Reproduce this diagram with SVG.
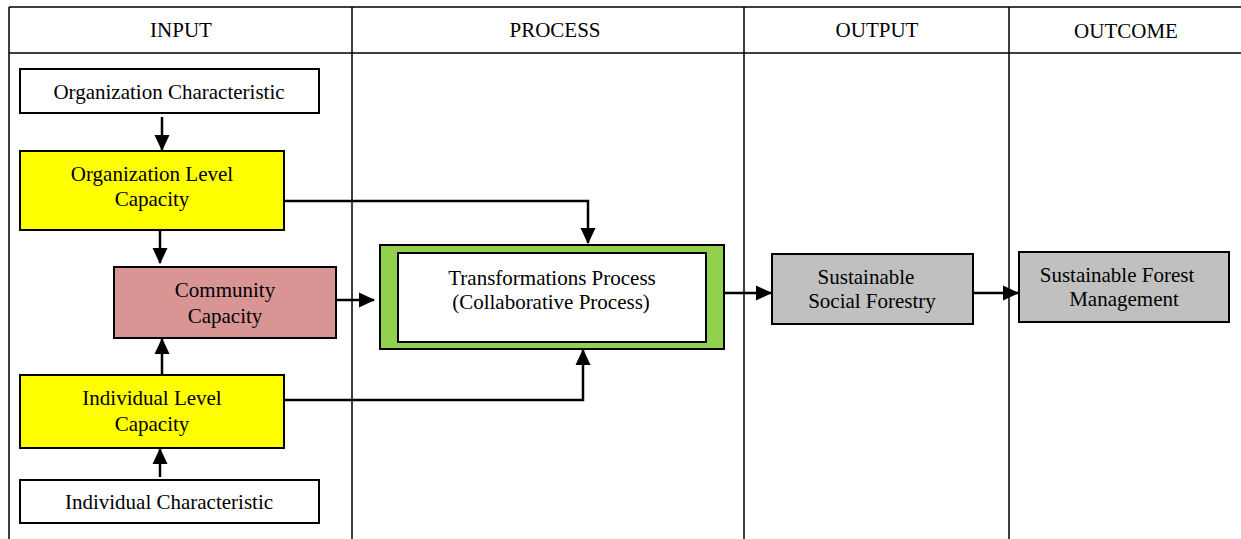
<svg xmlns="http://www.w3.org/2000/svg" width="1241" height="539" viewBox="0 0 1241 539">
<style>
text{font-family:"Liberation Serif","Times New Roman",serif;font-size:21px;fill:#000;text-anchor:middle}
.grid{stroke:#000;stroke-width:1.5;fill:none}
.box{stroke:#000;stroke-width:2}
.conn{stroke:#000;stroke-width:2.5;fill:none}
</style>
<defs>
<marker id="ah" markerWidth="16" markerHeight="16" refX="15" refY="8" orient="auto" markerUnits="userSpaceOnUse" viewBox="0 0 16 16">
<path d="M0,0.5 L16,8 L0,15.5 z" fill="#000"/>
</marker>
</defs>
<rect width="1241" height="539" fill="#fff"/>
<g id="table" class="grid">
<path d="M9,7 H1241 M9,53 H1241 M9,7 V539 M352,7 V539 M744,7 V539 M1009,7 V539"/>
</g>
<g id="headers">
<text x="181" y="37">INPUT</text>
<text x="555" y="37">PROCESS</text>
<text x="877" y="37">OUTPUT</text>
<text x="1126" y="38">OUTCOME</text>
</g>
<g id="org-char"><rect class="box" x="20" y="69" width="299" height="44" fill="#fff"/><text x="169" y="99">Organization Characteristic</text></g>
<g id="org-level"><rect class="box" x="20" y="151" width="264" height="79" fill="#ffff00"/><text x="152" y="181">Organization Level</text><text x="152" y="206">Capacity</text></g>
<g id="community"><rect class="box" x="114" y="267" width="222" height="71" fill="#d99594"/><text x="225" y="297">Community</text><text x="225" y="323">Capacity</text></g>
<g id="ind-level"><rect class="box" x="20" y="375" width="264" height="73" fill="#ffff00"/><text x="152" y="405">Individual Level</text><text x="152" y="431">Capacity</text></g>
<g id="ind-char"><rect class="box" x="20" y="480" width="299" height="43" fill="#fff"/><text x="169" y="509">Individual Characteristic</text></g>
<g id="process"><rect class="box" x="380" y="245" width="344" height="104" fill="#92d050"/><rect class="box" x="398" y="253" width="308" height="89" fill="#fff"/><text x="552" y="285">Transformations Process</text><text x="551" y="309">(Collaborative Process)</text></g>
<g id="ssf"><rect class="box" x="772" y="254" width="201" height="70" fill="#c0c0c0"/><text x="866" y="284">Sustainable</text><text x="872" y="308">Social Forestry</text></g>
<g id="sfm"><rect class="box" x="1019" y="252" width="210" height="70" fill="#c0c0c0"/><text x="1117" y="282">Sustainable Forest</text><text x="1124" y="306">Management</text></g>
<g id="connectors" class="conn">
<path d="M162,117 V150" marker-end="url(#ah)"/>
<path d="M160,231 V263" marker-end="url(#ah)"/>
<path d="M160,477 V449" marker-end="url(#ah)"/>
<path d="M162,375 V339" marker-end="url(#ah)"/>
<path d="M284,201 H588 V243" marker-end="url(#ah)"/>
<path d="M284,400 H583 V350" marker-end="url(#ah)"/>
<path d="M336,300 H374" marker-end="url(#ah)"/>
<path d="M724,293 H771" marker-end="url(#ah)"/>
<path d="M973,293 H1018" marker-end="url(#ah)"/>
</g>
</svg>
